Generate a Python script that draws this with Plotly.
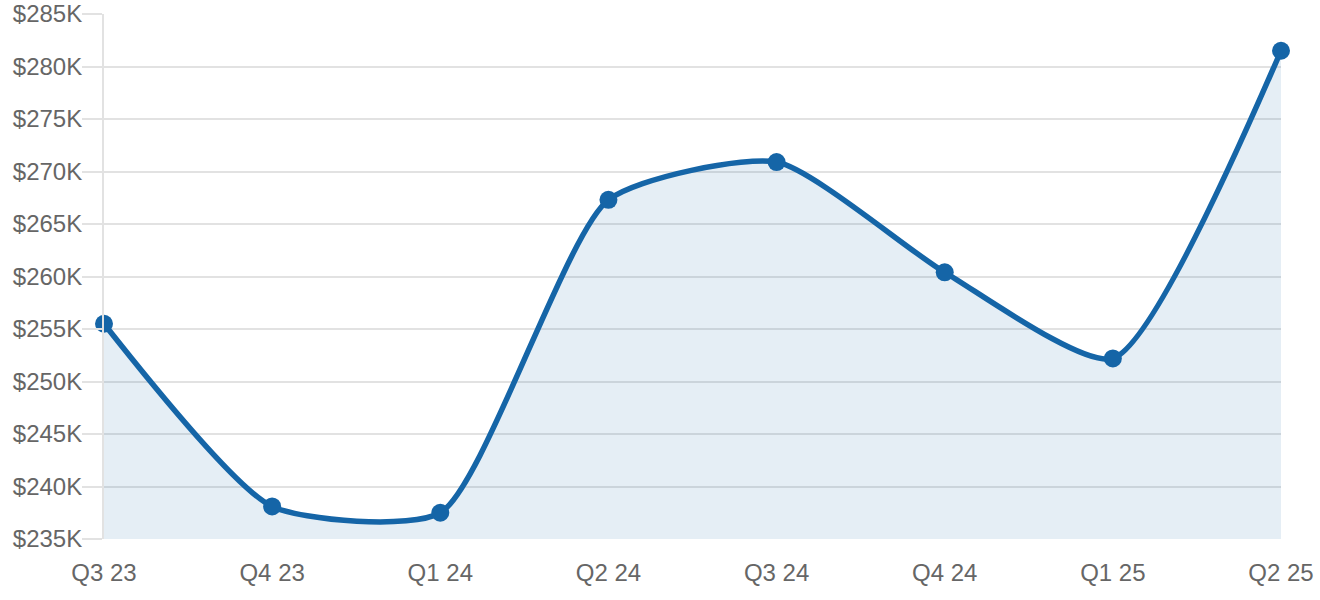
import plotly.graph_objects as go

quarters = ["Q3 23", "Q4 23", "Q1 24", "Q2 24", "Q3 24", "Q4 24", "Q1 25", "Q2 25"]
values = [255.5, 238.1, 237.5, 267.3, 270.9, 260.4, 252.2, 281.5]  # in $K
tick_vals = [235, 240, 245, 250, 255, 260, 265, 270, 275, 280, 285]
tick_text = ["$%dK" % v for v in tick_vals]

LINE = "#1565a7"
GRID = "#e2e2e2"

fig = go.Figure()
fig.add_trace(go.Scatter(
    x=quarters,
    y=values,
    mode="lines+markers",
    line=dict(color=LINE, width=5.5, shape="spline", smoothing=0.6),
    marker=dict(color=LINE, size=18),
    fill="tozeroy",
    fillcolor="rgba(21,101,167,0.11)",
    cliponaxis=False,
    hoverinfo="x+y",
))

fig.update_layout(
    template="none",
    width=1320,
    height=600,
    margin=dict(l=104, r=39, t=14, b=61),
    paper_bgcolor="white",
    plot_bgcolor="white",
    showlegend=False,
    font=dict(family="Liberation Sans, Arial, sans-serif", size=24, color="#666666"),
    xaxis=dict(
        automargin=False,
        showgrid=False,
        zeroline=False,
        showline=False,
        ticks="",
        ticklabelstandoff=17,
        range=[0, len(quarters) - 1],
    ),
    yaxis=dict(
        automargin=False,
        range=[235, 285.001],
        tickvals=tick_vals,
        ticktext=tick_text,
        showgrid=True,
        gridcolor=GRID,
        gridwidth=2,
        zeroline=False,
        showline=True,
        linecolor=GRID,
        linewidth=2,
        ticks="outside",
        ticklen=20,
        tickwidth=2,
        tickcolor=GRID,
        ticklabelstandoff=-5,
    ),
)

# drop the default body margin so the figure fills the window exactly
fig.write_html("out.html", config={"displayModeBar": False},
               post_script="document.body.style.margin='0';")
